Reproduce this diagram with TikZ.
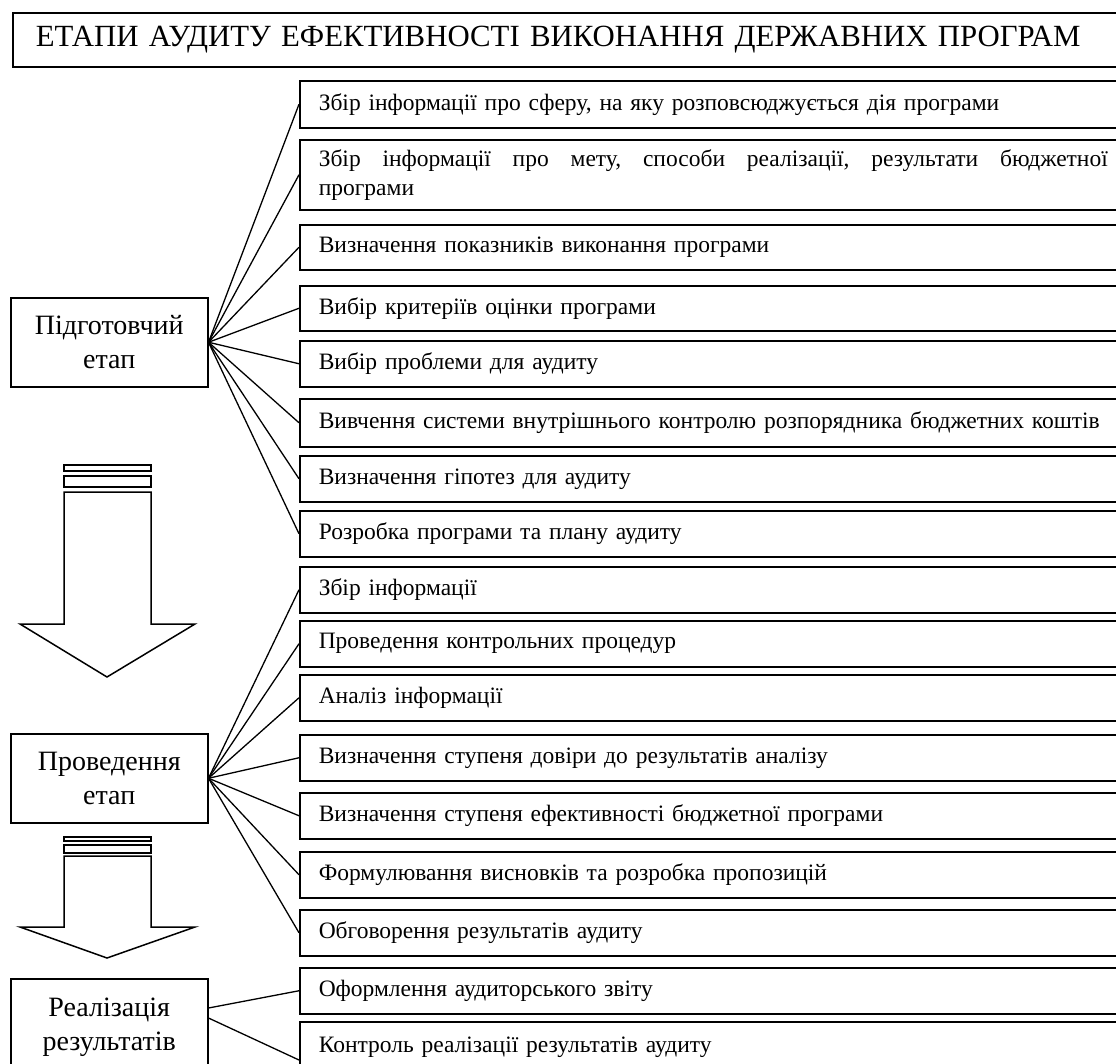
\documentclass[tikz,border=0pt]{standalone}
\usepackage{fontspec}
\setmainfont{Liberation Serif}
\usetikzlibrary{calc}
\begin{document}
\begin{tikzpicture}[x=1pt,y=-1pt,
  box/.style={draw, line width=1.5pt, rectangle, anchor=north west, text width=800pt, align=left, inner xsep=19pt, inner ysep=0pt, font=\fontsize{23.5}{29}\selectfont},
  stage/.style={draw, line width=1.5pt, rectangle, anchor=north west, minimum width=197pt, text width=190pt, align=center, inner sep=0pt, font=\fontsize{28}{34}\selectfont},
  titlebox/.style={draw, line width=1.5pt, rectangle, anchor=north west, text width=1100pt, align=left, inner xsep=23pt, inner ysep=0pt, minimum height=54pt, font=\fontsize{30.8}{34}\selectfont},
  conn/.style={line width=1.3pt},
  bigarrow/.style={draw, line width=1.5pt, fill=white, line join=miter}
]
\useasboundingbox (0,0) rectangle (1116,1063);
\fill[white] (0,0) rectangle (1116,1063);
\clip (0,0) rectangle (1116,1063);

\node[titlebox] (title) at (12,12) {ЕТАПИ АУДИТУ ЕФЕКТИВНОСТІ ВИКОНАННЯ ДЕРЖАВНИХ ПРОГРАМ};

\node[stage, minimum height=89pt] (pid) at (10,297) {Підготовчий\\етап};
\node[stage, minimum height=89pt] (pro) at (10,733) {Проведення\\етап};
\node[stage, minimum height=96pt] (real) at (10,978) {Реалізація\\результатів};

\node[box, minimum height=47pt] (b1) at (299,80) {Збір інформації про сферу, на яку розповсюджується дія програми};
\node[box, minimum height=70pt] (b2) at (299,139) {\leavevmode\hbox to 789pt{Збір\hfill інформації\hfill про\hfill мету,\hfill способи\hfill реалізації,\hfill результати\hfill бюджетної}\\програми};
\node[box, minimum height=45pt] (b3) at (299,224) {Визначення показників виконання програми};
\node[box, minimum height=45pt] (b4) at (299,285) {Вибір критеріїв оцінки програми};
\node[box, minimum height=46pt] (b5) at (299,340) {Вибір проблеми для аудиту};
\node[box, minimum height=48pt] (b6) at (299,398) {Вивчення системи внутрішнього контролю розпорядника бюджетних коштів};
\node[box, minimum height=46pt] (b7) at (299,455) {Визначення гіпотез для аудиту};
\node[box, minimum height=46pt] (b8) at (299,510) {Розробка програми та плану аудиту};
\node[box, minimum height=46pt] (b9) at (299,566) {Збір інформації};
\node[box, minimum height=46pt] (b10) at (299,620) {Проведення контрольних процедур};
\node[box, minimum height=46pt] (b11) at (299,674) {Аналіз інформації};
\node[box, minimum height=46pt] (b12) at (299,734) {Визначення ступеня довіри до результатів аналізу};
\node[box, minimum height=46pt] (b13) at (299,792) {Визначення ступеня ефективності бюджетної програми};
\node[box, minimum height=46pt] (b14) at (299,851) {Формулювання висновків та розробка пропозицій};
\node[box, minimum height=46pt] (b15) at (299,909) {Обговорення результатів аудиту};
\node[box, minimum height=46pt] (b16) at (299,967) {Оформлення аудиторського звіту};
\node[box, minimum height=50pt] (b17) at (299,1021) {Контроль реалізації результатів аудиту};

\foreach \i in {1,...,8} \draw[conn] (pid.east) -- (b\i.west);
\foreach \i in {9,...,15} \draw[conn] (pro.east) -- (b\i.west);
\draw[conn] ($(real.north east)+(0,30)$) -- (b16.west);
\draw[conn] ($(real.north east)+(0,40)$) -- ($(b17.north west)+(0,39)$);

% first big arrow
\draw[bigarrow] (64,465) rectangle (151,471);
\draw[bigarrow] (64,476) rectangle (151,487);
\draw[bigarrow] (64,492) -- (64,624) -- (20,624) -- (107,677) -- (195,624) -- (151,624) -- (151,492) -- cycle;
% second big arrow
\draw[bigarrow] (64,837) rectangle (151,841);
\draw[bigarrow] (64,845) rectangle (151,853);
\draw[bigarrow] (64,856) -- (64,927) -- (20,927) -- (107,958) -- (195,927) -- (151,927) -- (151,856) -- cycle;
\end{tikzpicture}
\end{document}
